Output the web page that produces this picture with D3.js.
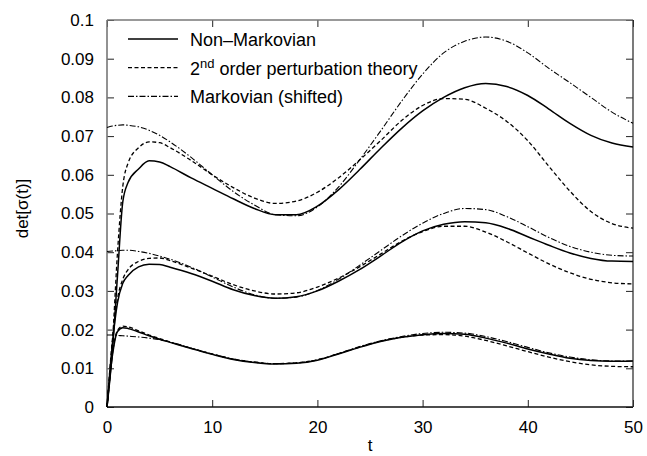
<!DOCTYPE html>
<html>
<head>
<meta charset="utf-8">
<script src="https://cdn.jsdelivr.net/npm/d3@7"></script>
<style>
  html, body { margin: 0; padding: 0; background: #fff; }
  svg text { font-family: "Liberation Sans", Arial, Helvetica, sans-serif; fill: #000; }
</style>
</head>
<body>
<div id="chart"></div>
<script>
// time grid shared by all curves
const tValues = [0, 0.5, 1, 1.5, 2, 3, 4, 5, 6, 8, 10, 12, 14, 16, 18, 20, 22, 24, 26, 28, 30, 32, 34, 36, 38, 40, 42, 44, 46, 48, 50];

// upper group
const highNonMarkov = [0, 0.014, 0.034, 0.053, 0.058, 0.0615, 0.0636, 0.0633, 0.0621, 0.0592, 0.0565, 0.0538, 0.0513, 0.0497, 0.0497, 0.0519, 0.0561, 0.0613, 0.0668, 0.0720, 0.0765, 0.0800, 0.0825, 0.0836, 0.0828, 0.0805, 0.0770, 0.0733, 0.0702, 0.0682, 0.0672];
const highPert = [0, 0.016, 0.040, 0.057, 0.0630, 0.0670, 0.0685, 0.0683, 0.0670, 0.0637, 0.0600, 0.0567, 0.0540, 0.0526, 0.0532, 0.0555, 0.0592, 0.0638, 0.0688, 0.0740, 0.0779, 0.0797, 0.0795, 0.0772, 0.0738, 0.0688, 0.0622, 0.0558, 0.0505, 0.0474, 0.0462];
const highMarkov = [0.0722, 0.0726, 0.0728, 0.0729, 0.0728, 0.0724, 0.0715, 0.0702, 0.0685, 0.0645, 0.0600, 0.0557, 0.0522, 0.0497, 0.0494, 0.0517, 0.0568, 0.0638, 0.0713, 0.0790, 0.0860, 0.0915, 0.0945, 0.0956, 0.0945, 0.0915, 0.0875, 0.0838, 0.0800, 0.0762, 0.0733];

// middle group
const midNonMarkov = [0, 0.016, 0.027, 0.032, 0.0340, 0.0362, 0.0369, 0.0368, 0.0361, 0.0345, 0.0325, 0.0303, 0.0288, 0.0281, 0.0285, 0.0300, 0.0325, 0.0355, 0.0390, 0.0426, 0.0455, 0.0472, 0.0479, 0.0476, 0.0462, 0.0440, 0.0418, 0.0398, 0.0384, 0.0377, 0.0376];
const midPert = [0, 0.017, 0.028, 0.033, 0.0355, 0.0376, 0.0384, 0.0385, 0.0378, 0.0359, 0.0338, 0.0316, 0.0300, 0.0292, 0.0295, 0.0310, 0.0333, 0.0362, 0.0395, 0.0428, 0.0453, 0.0467, 0.0467, 0.0452, 0.0427, 0.0398, 0.0370, 0.0347, 0.0330, 0.0321, 0.0318];
const midMarkov = [0.0402, 0.0403, 0.0404, 0.0405, 0.0405, 0.0402, 0.0397, 0.0390, 0.0382, 0.0361, 0.0336, 0.0310, 0.0290, 0.0281, 0.0284, 0.0301, 0.0330, 0.0366, 0.0404, 0.0442, 0.0475, 0.0500, 0.0513, 0.0510, 0.0492, 0.0466, 0.0438, 0.0415, 0.0400, 0.0392, 0.0390];

// lower group
const lowNonMarkov = [0, 0.013, 0.0195, 0.0205, 0.0203, 0.0194, 0.0184, 0.0175, 0.0167, 0.0151, 0.0136, 0.0123, 0.0115, 0.0111, 0.0113, 0.0121, 0.0137, 0.0154, 0.0169, 0.0180, 0.0187, 0.0190, 0.0188, 0.0178, 0.0165, 0.0150, 0.0137, 0.0126, 0.0120, 0.0118, 0.0119];
const lowPert = [0, 0.0135, 0.0198, 0.0209, 0.0207, 0.0197, 0.0186, 0.0177, 0.0168, 0.0152, 0.0137, 0.0124, 0.0116, 0.0112, 0.0114, 0.0122, 0.0138, 0.0155, 0.0170, 0.0180, 0.0186, 0.0187, 0.0183, 0.0172, 0.0158, 0.0143, 0.0129, 0.0117, 0.0109, 0.0105, 0.0104];
const lowMarkov = [0.0186, 0.0186, 0.0185, 0.0184, 0.0183, 0.0181, 0.0178, 0.0174, 0.0168, 0.0152, 0.0137, 0.0124, 0.0116, 0.0112, 0.0114, 0.0122, 0.0138, 0.0156, 0.0171, 0.0182, 0.0190, 0.0193, 0.0191, 0.0182, 0.0169, 0.0154, 0.0140, 0.0129, 0.0122, 0.0119, 0.0119];

const xTicks = [0, 10, 20, 30, 40, 50];
const yTicks = [0, 0.01, 0.02, 0.03, 0.04, 0.05, 0.06, 0.07, 0.08, 0.09, 0.1];
const legendLabels = ["Non\u2013Markovian", "2nd order perturbation theory", "Markovian (shifted)"];

// line styles per kind
const styles = {
    solid:   { dash: null,        width: 1.5 },
    dashed:  { dash: "4,2.5",     width: 1.3 },
    dashdot: { dash: "6,2,1.5,2", width: 1.1 },
};

const series = [
    { kind: "solid",   values: highNonMarkov },
    { kind: "dashed",  values: highPert },
    { kind: "dashdot", values: highMarkov },
    { kind: "solid",   values: midNonMarkov },
    { kind: "dashed",  values: midPert },
    { kind: "dashdot", values: midMarkov },
    { kind: "solid",   values: lowNonMarkov },
    { kind: "dashed",  values: lowPert },
    { kind: "dashdot", values: lowMarkov },
];

const width = 647, height = 456;
const margins = { top: 20, right: 14, bottom: 49, left: 107 };
const innerWidth = width - margins.left - margins.right;
const innerHeight = height - margins.top - margins.bottom;

const svg = d3.select("#chart")
    .append("svg")
    .attr("width", width)
    .attr("height", height);

const g = svg.append("g")
    .attr("transform", `translate(${margins.left}, ${margins.top})`);

const xScale = d3.scaleLinear().domain([0, 50]).range([0, innerWidth]);
const yScale = d3.scaleLinear().domain([0, 0.1]).range([innerHeight, 0]);

//AXES -------------------------------------------------------------------
const tickLen = 7;
const fmtY = d => d === 0 ? "0" : d3.format("~g")(d);

const xAxis = g.append("g")
    .attr("transform", `translate(0, ${innerHeight})`)
    .call(d3.axisBottom(xScale).tickValues(xTicks).tickSize(-tickLen).tickPadding(14).tickFormat(d3.format("d")));
const xAxisTop = g.append("g")
    .call(d3.axisTop(xScale).tickValues(xTicks).tickSize(-tickLen));
const yAxis = g.append("g")
    .call(d3.axisLeft(yScale).tickValues(yTicks).tickSize(-tickLen).tickPadding(13).tickFormat(fmtY));
const yAxisRight = g.append("g")
    .attr("transform", `translate(${innerWidth}, 0)`)
    .call(d3.axisRight(yScale).tickValues(yTicks).tickSize(-tickLen));

// mirror axes only carry tick marks
xAxisTop.selectAll(".tick text").remove();
yAxisRight.selectAll(".tick text").remove();

[xAxis, xAxisTop, yAxis, yAxisRight].forEach(a => {
    a.select(".domain").remove();
    a.selectAll(".tick line").attr("stroke", "#222").attr("stroke-width", 1);
    a.selectAll("text").style("font-size", "17px").attr("fill", "#000");
});

// frame: left / top lighter, as in the reference
g.append("line").attr("x1", 0).attr("x2", 0).attr("y1", 0).attr("y2", innerHeight)
    .attr("stroke", "#777").attr("stroke-width", 1.6);
g.append("line").attr("x1", 0).attr("x2", innerWidth).attr("y1", 0).attr("y2", 0)
    .attr("stroke", "#777").attr("stroke-width", 1.3);
g.append("line").attr("x1", 0).attr("x2", innerWidth).attr("y1", innerHeight).attr("y2", innerHeight)
    .attr("stroke", "#111").attr("stroke-width", 1.3);
g.append("line").attr("x1", innerWidth).attr("x2", innerWidth).attr("y1", 0).attr("y2", innerHeight)
    .attr("stroke", "#333").attr("stroke-width", 1.3);

// axis titles
svg.append("text")
    .attr("x", margins.left + innerWidth / 2)
    .attr("y", 451)
    .attr("text-anchor", "middle")
    .style("font-size", "17px")
    .text("t");

svg.append("text")
    .attr("transform", `translate(28, ${margins.top + innerHeight / 2 - 5}) rotate(-90)`)
    .attr("text-anchor", "middle")
    .style("font-size", "17px")
    .text("det[\u03c3(t)]");

//CURVES -----------------------------------------------------------------
const lineGen = d3.line()
    .x((d, i) => xScale(tValues[i]))
    .y(d => yScale(d))
    .curve(d3.curveMonotoneX);

g.append("g")
    .selectAll("path")
    .data(series)
    .enter()
    .append("path")
    .attr("d", d => lineGen(d.values))
    .attr("fill", "none")
    .attr("stroke", "#000")
    .attr("stroke-width", d => styles[d.kind].width)
    .attr("stroke-dasharray", d => styles[d.kind].dash);

//LEGEND -----------------------------------------------------------------
const legendKinds = ["solid", "dashed", "dashdot"];
const legend = svg.append("g").attr("transform", "translate(128, 39)");
const rowH = 28.7;

legendKinds.forEach((kind, i) => {
    const row = legend.append("g").attr("transform", `translate(0, ${i * rowH})`);
    row.append("line")
        .attr("x1", 0).attr("x2", 50).attr("y1", 0).attr("y2", 0)
        .attr("stroke", "#000")
        .attr("stroke-width", styles[kind].width)
        .attr("stroke-dasharray", styles[kind].dash);
    const txt = row.append("text")
        .attr("x", 62)
        .attr("y", 7)
        .style("font-size", "18px");
    if (i === 1) {
        txt.append("tspan").text("2");
        txt.append("tspan").attr("dy", -7).style("font-size", "13px").text("nd");
        txt.append("tspan").attr("dy", 7).text(" order perturbation theory");
    } else {
        txt.text(legendLabels[i]);
    }
});
</script>
</body>
</html>
